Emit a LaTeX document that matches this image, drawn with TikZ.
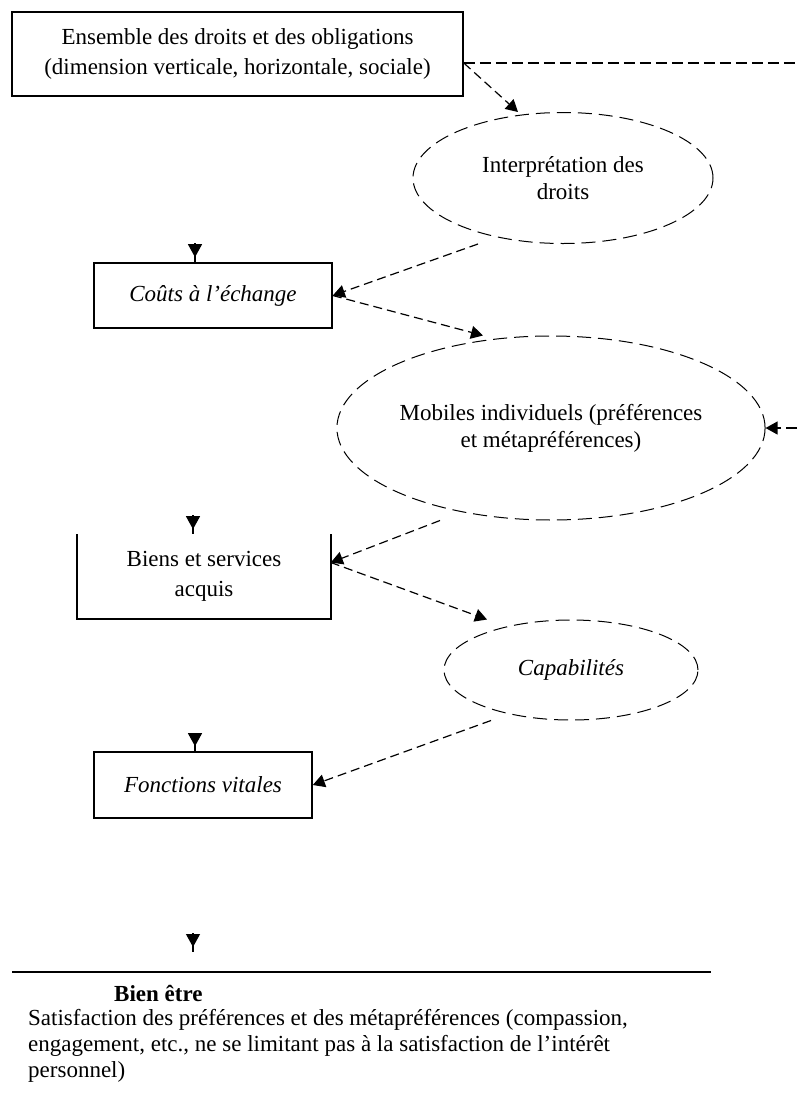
\documentclass[tikz,border=0pt]{standalone}
\usepackage{fontspec}
\setmainfont{Liberation Serif}
\usetikzlibrary{shapes.geometric,arrows.meta}

\tikzset{
  box/.style={draw, line width=1.6pt, inner sep=0pt, align=center,
    font=\fontsize{23pt}{30pt}\selectfont},
  oval/.style={ellipse, draw, line width=1pt, dash pattern=on 14pt off 7pt,
    inner sep=0pt, align=center, font=\fontsize{23pt}{27pt}\selectfont},
  link/.style={line width=1.2pt, dash pattern=on 9pt off 5pt,
    -{Triangle[length=12pt,width=13pt]}},
  feedback/.style={line width=1.2pt, dash pattern=on 11pt off 5pt,
    -{Triangle[length=12pt,width=13pt]}},
  stub/.style={line width=1.2pt,
    -{Triangle[length=13pt,width=14pt,sep=0pt]Rectangle[length=5pt,width=1.4pt]}},
  plain/.style={inner sep=0pt, align=left, font=\fontsize{23pt}{26pt}\selectfont},
}

\begin{document}
\begin{tikzpicture}[x=1pt,y=-1pt]
  \useasboundingbox (0,0) rectangle (798,1106);
  \clip (0,0) rectangle (798,1106);

  % rights and obligations
  \node[box, minimum width=451pt, minimum height=84pt] (top) at (237.5,54)
    {Ensemble des droits et des obligations\\(dimension verticale, horizontale, sociale)};

  % chain of ovals and boxes
  \node[oval, minimum width=300pt, minimum height=131pt] (e1) at (563,178)
    {Interprétation des\\droits};
  \node[box, minimum width=238pt, minimum height=65pt] (b1) at (213,295.5)
    {\itshape Coûts à l'échange};
  \node[oval, minimum width=416pt, minimum height=184pt] (e2) at (551,428)
    {Mobiles individuels (préférences\\et métapréférences)};
  \node[box, draw=none, minimum width=252pt, minimum height=83pt] (b2) at (204,576.5)
    {Biens et services\\acquis};
  \draw[line width=1.6pt] (b2.north west) -- (b2.south west) -- (b2.south east) -- (b2.north east);
  \node[oval, minimum width=254pt, minimum height=100pt] (e3) at (571,670)
    {\itshape Capabilités};
  \node[box, minimum width=218pt, minimum height=66pt] (b3) at (203,785)
    {\itshape Fonctions vitales};

  % well-being block
  \coordinate (ruleL) at (12,972);
  \coordinate (ruleR) at (711,972);
  \draw[line width=1.6pt] (ruleL) -- (ruleR);
  \node[plain, font=\fontsize{23pt}{26pt}\selectfont\bfseries, anchor=base west] (be) at (114,1001)
    {Bien être};
  \node[plain, anchor=north west] (sat) at (28,1009)
    {Satisfaction des préférences et des métapréférences (compassion,\\
     engagement, etc., ne se limitant pas à la satisfaction de l'intérêt\\
     personnel)};

  % dashed connectors
  \coordinate (tport) at ([yshift=-9pt]top.east);
  \coordinate (far) at (840,63);
  \draw[feedback] (tport) -- (tport -| far) |- (e2.east);
  \draw[link] (tport) -- ([xshift=-45pt]e1.north);
  \draw[link] ([xshift=-85pt]e1.south) -- (b1.east);
  \draw[link] (b1.east) -- ([xshift=-68pt]e2.north);
  \coordinate (b2port) at ([yshift=14pt]b2.east);
  \draw[link] ([xshift=-111pt]e2.south) -- (b2port);
  \draw[link] (b2port) -- ([xshift=-84pt]e3.north);
  \draw[link] ([xshift=-80pt]e3.south) -- (b3.east);

  % short downward arrows above each stage
  \coordinate (s1) at (195,243);
  \coordinate (s2) at (193,515);
  \coordinate (s3) at (195,733);
  \coordinate (s4) at (193,933);
  \coordinate (s4e) at (193,952);
  \draw[stub] (s1) -- (s1 |- b1.north);
  \draw[stub] (s2) -- (s2 |- b2.north);
  \draw[stub] (s3) -- (s3 |- b3.north);
  \draw[stub] (s4) -- (s4e);
\end{tikzpicture}
\end{document}
